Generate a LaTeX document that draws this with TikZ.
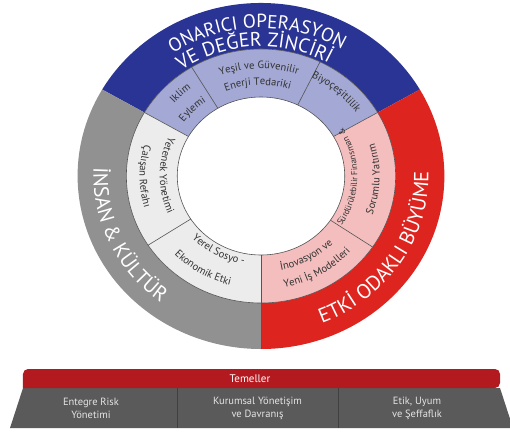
\documentclass[tikz,border=0pt]{standalone}
\usepackage{fontspec}
\setmainfont{PT Sans}
\usetikzlibrary{decorations.text}
\definecolor{dblue}{RGB}{42,52,148}
\definecolor{lblue}{RGB}{163,168,212}
\definecolor{ogray}{RGB}{145,145,145}
\definecolor{lgray}{RGB}{236,236,236}
\definecolor{ored}{RGB}{222,36,30}
\definecolor{lpink}{RGB}{244,190,190}
\definecolor{barred}{RGB}{178,26,32}
\definecolor{basegray}{RGB}{90,90,90}
\definecolor{sepline}{RGB}{85,85,85}
\definecolor{txtgray}{RGB}{50,50,50}
\definecolor{basetext}{RGB}{228,228,228}

\newcommand\ringsec[5]{% color, a1, a2, r1, r2
  \fill[#1] (#2:#5) arc[start angle=#2, end angle=#3, radius=#5] -- (#3:#4) arc[start angle=#3, end angle=#2, radius=#4] -- cycle;}
\newcommand\cwtext[5]{% center, halfspan, radius, format, text
  \path[decorate,decoration={text along path,text align=center,text={|#4|#5}}]
    ({#1+#2}:#3) arc[start angle={#1+#2}, end angle={#1-#2}, radius=#3];}
\newcommand\ccwtext[5]{%
  \path[decorate,decoration={text along path,text align=center,text={|#4|#5}}]
    ({#1-#2}:#3) arc[start angle={#1-#2}, end angle={#1+#2}, radius=#3];}
\newcommand\bigfmt{\color{white}\fontsize{20.5}{21}\selectfont}
\newcommand\titlefmt{\color{white}\fontsize{19}{20}\selectfont}
\newcommand\titlefmtb{\color{white}\fontsize{19.8}{20}\selectfont}
\newcommand\midfmt{\color{txtgray}\fontsize{10.6}{11}\selectfont}
\newcommand\smallfmt{\color{txtgray}\fontsize{8.8}{9}\selectfont}

\begin{document}
\begin{tikzpicture}[x=1pt,y=1pt,
  sepstyle/.style={draw=sepline,line width=0.6pt},
  basetxt/.style={text=basetext,font=\fontsize{10.5}{12.5}\selectfont,align=center,inner sep=0pt}]
\useasboundingbox (-261,-256) rectangle (249,176);

\begin{scope}[xscale=1.06]
  % outer ring
  \ringsec{dblue}{30}{150}{127}{173}
  \ringsec{ogray}{150}{270}{127}{173}
  \ringsec{ored}{-90}{30}{127}{173}
  % middle ring
  \ringsec{lblue}{30}{150}{79}{127}
  \ringsec{lgray}{150}{270}{79}{127}
  \ringsec{lpink}{-90}{30}{79}{127}
  % separators
  \draw[sepstyle] (0,0) circle[radius=79];
  \draw[sepstyle] (0,0) circle[radius=127];
  \foreach \a in {30,64,121,150,213,326}{\draw[sepstyle] (\a:79) -- (\a:127);}
  \draw[sepstyle] (270:79) -- (270:173);

  % outer titles
  \cwtext{91.5}{60}{148}{\titlefmt}{ONARICI OPERASYON}
  \cwtext{93}{60}{129.5}{\titlefmtb}{VE DEĞER ZİNCİRİ}
  \ccwtext{204.5}{58}{158}{\bigfmt}{İNSAN {\&} KÜLTÜR}
  \ccwtext{-33}{58}{158}{\bigfmt}{ETKİ ODAKLI BÜYÜME}

  % middle ring texts
  \cwtext{133}{25}{109.5}{\midfmt}{Iklim}
  \cwtext{134.5}{25}{90.5}{\midfmt}{Eylemi}
  \cwtext{91}{40}{107.5}{\midfmt}{Yeşil ve Güvenilir}
  \cwtext{92}{40}{91}{\midfmt}{Enerji Tedariki}
  \cwtext{49.4}{30}{109.5}{\midfmt}{Biyoçeşitlilik}
  \ccwtext{179.5}{40}{95.5}{\midfmt}{Yetenek Yönetimi}
  \ccwtext{180}{40}{114.5}{\midfmt}{Çalışan Refahı}
  \ccwtext{241.4}{35}{90}{\midfmt}{Yerel Sosyo -}
  \ccwtext{239}{35}{113}{\midfmt}{Ekonomik Etki}
  \ccwtext{298.5}{35}{96}{\midfmt}{İnovasyon ve}
  \ccwtext{300}{35}{113.5}{\midfmt}{Yeni İş Modelleri}
  \ccwtext{-0.6}{40}{91}{\smallfmt}{Sürdürülebilir Finansman {\&}}
  \ccwtext{-1.6}{40}{112}{\midfmt}{Sorumlu Yatırım}
\end{scope}

% foundations
\fill[basegray] (-238,-212) -- (239,-212) -- (252,-252) -- (-251,-252) -- cycle;
\fill[barred, rounded corners=5pt] (-238,-212) -- (-238,-193) -- (239,-193) -- (239,-212) [sharp corners] -- cycle;
\coordinate (d1t) at (-84,-212); \coordinate (d1b) at (-84,-252);
\coordinate (d2t) at (77,-212);  \coordinate (d2b) at (77,-252);
\draw[draw=black!75,line width=0.6pt] (d1t) -- (d1b);
\draw[draw=black!75,line width=0.6pt] (d2t) -- (d2b);
\node[text=white,font=\fontsize{11}{12}\selectfont,inner sep=0pt] (temeller) at (-11,-202.5) {Temeller};
\node[basetxt] (risk) at (-170,-232.5) {Entegre Risk\\Yönetimi};
\node[basetxt] (kurumsal) at (-3.5,-232.5) {Kurumsal Yönetişim\\ve Davranış};
\node[basetxt] (etik) at (156,-232.5) {Etik, Uyum\\ve Şeffaflık};
\end{tikzpicture}
\end{document}
